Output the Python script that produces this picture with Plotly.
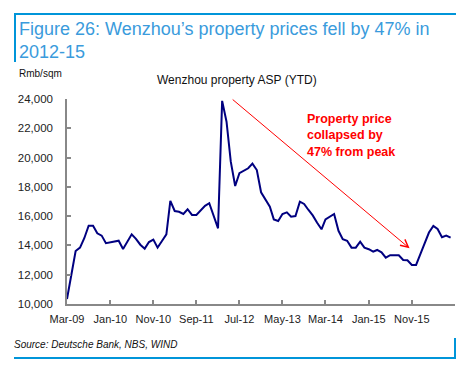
import pandas as pd
import plotly.graph_objects as go

# ---- data ----
months = pd.date_range("2009-03-01", periods=90, freq="MS")
asp = [
    10340, 11890, 13620, 13850, 14490, 15350, 15350, 14830, 14670, 14150,
    14210, 14260, 14320, 13760, 14260, 14760, 14450, 14050, 13780, 14230,
    14400, 13850, 14300, 14760, 17040, 16350, 16300, 16150, 16470, 16080,
    16080, 16400, 16700, 16880, 16000, 15170, 23870, 22450, 19720, 18060,
    18930, 19100, 19270, 19590, 19150, 17630, 17150, 16650, 15780, 15670,
    16150, 16260, 15960, 16010, 16990, 16830, 16420, 16050, 15550, 15100,
    15780, 15970, 16150, 15000, 14420, 14320, 13850, 13850, 14260, 13850,
    13740, 13570, 13690, 13530, 13160, 13330, 13330, 13330, 13010, 12990,
    12670, 12670, 13420, 14210, 14880, 15330, 15120, 14560, 14670, 14530,
]
tick_dates = ["2009-03-01", "2010-01-01", "2010-11-01", "2011-09-01", "2012-07-01",
              "2013-05-01", "2014-03-01", "2015-01-01", "2015-11-01", "2016-09-01"]
tick_text = ["Mar-09", "Jan-10", "Nov-10", "Sep-11", "Jul-12",
             "May-13", "Mar-14", "Jan-15", "Nov-15", ""]
y_ticks = [10000, 12000, 14000, 16000, 18000, 20000, 22000, 24000]
y_text = ["10,000", "12,000", "14,000", "16,000", "18,000", "20,000", "22,000", "24,000"]

arrow_start = ("2012-05-04", 24050)
arrow_end = ("2015-10-16", 13800)

FONT = "Arial, Liberation Sans, sans-serif"
W, H = 476, 373
L, R, T, B = 67, 21, 99, 69
PW, PH = W - L - R, H - T - B


def px(x):
    return (x - L) / PW


def py(y):
    return (H - B - y) / PH


fig = go.Figure()
fig.add_trace(go.Scatter(
    x=months, y=asp, mode="lines",
    line=dict(color="#000080", width=2),
    hoverinfo="skip", showlegend=False,
))

frame = "#0095d9"
shapes = [
    dict(type="line", xref="paper", yref="paper", x0=px(14), x1=px(456), y0=py(14), y1=py(14),
         line=dict(color=frame, width=2)),
    dict(type="line", xref="paper", yref="paper", x0=px(15), x1=px(15), y0=py(14), y1=py(62),
         line=dict(color=frame, width=2)),
    dict(type="line", xref="paper", yref="paper", x0=px(14), x1=px(456), y0=py(358), y1=py(358),
         line=dict(color=frame, width=2)),
    dict(type="line", xref="paper", yref="paper", x0=px(455), x1=px(455), y0=py(338), y1=py(358),
         line=dict(color=frame, width=2)),
]

annotations = [
    dict(xref="paper", yref="paper", x=px(17), y=py(17), xanchor="left", yanchor="top",
         text="Figure 26: Wenzhou\u2019s property prices fell by 47% in<br>2012-15",
         align="left", showarrow=False, font=dict(family=FONT, size=18, color="#3a9bdc")),
    dict(xref="paper", yref="paper", x=px(17), y=py(73), xanchor="left", yanchor="middle",
         text="Rmb/sqm", showarrow=False, font=dict(family=FONT, size=10, color="#111")),
    dict(xref="paper", yref="paper", x=px(237), y=py(80), xanchor="center", yanchor="middle",
         text="Wenzhou property ASP (YTD)", showarrow=False, font=dict(family=FONT, size=12, color="#111")),
    dict(xref="paper", yref="paper", x=px(12), y=py(344), xanchor="left", yanchor="middle",
         text="<i>Source: Deutsche Bank, NBS, WIND</i>", showarrow=False,
         font=dict(family=FONT, size=10, color="#111")),
    dict(xref="paper", yref="paper", x=px(305), y=py(110), xanchor="left", yanchor="top",
         text="<b>Property price<br>collapsed by<br>47% from peak</b>", align="left",
         showarrow=False, font=dict(family=FONT, size=12.5, color="#ff0000")),
    dict(x=arrow_end[0], y=arrow_end[1], xref="x", yref="y",
         ax=arrow_start[0], ay=arrow_start[1], axref="x", ayref="y",
         text="", showarrow=True, arrowhead=5, arrowsize=1.5, arrowwidth=1,
         arrowcolor="#ff0000", standoff=0),
]

fig.update_layout(
    width=W, height=H,
    margin=dict(l=L, r=R, t=T, b=B, pad=0),
    paper_bgcolor="white", plot_bgcolor="white",
    shapes=shapes, annotations=annotations,
    font=dict(family=FONT, color="#222"),
    xaxis=dict(
        type="date", range=["2009-03-01", "2016-09-01"],
        tickmode="array", tickvals=tick_dates, ticktext=tick_text,
        showgrid=False, zeroline=False, showline=True, linecolor="#888", linewidth=1.5,
        ticks="inside", ticklen=4, tickcolor="#888", tickwidth=1.5,
        tickfont=dict(family=FONT, size=11, color="#222"), ticklabelstandoff=4,
    ),
    yaxis=dict(
        range=[10000, 24000], tickmode="array", tickvals=y_ticks, ticktext=y_text,
        showgrid=False, zeroline=False, showline=True, linecolor="#888", linewidth=1.5,
        ticks="inside", ticklen=4, tickcolor="#888", tickwidth=1.5,
        tickfont=dict(family=FONT, size=11.5, color="#222"), ticklabelstandoff=10,
    ),
)

fig.write_html(
    "out.html",
    config={"displayModeBar": False},
    post_script="document.body.style.margin='0';document.body.style.overflow='hidden';",
)
